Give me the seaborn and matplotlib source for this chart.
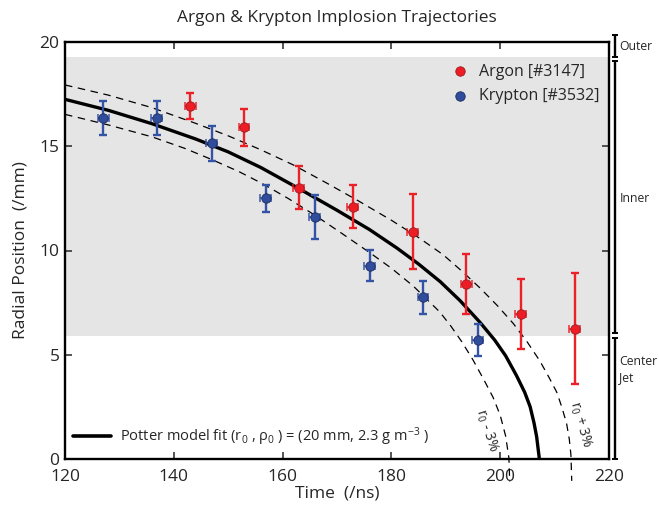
import matplotlib
matplotlib.use("Agg")
import matplotlib.pyplot as plt
import matplotlib.transforms as mtransforms
from matplotlib.lines import Line2D
import pandas as pd
import seaborn as sns

# Measured trajectories (time in ns, radius in mm)
argon_t = [143.0, 152.9, 162.95, 172.85, 183.9, 193.8, 203.8, 213.7]
argon_r = [16.92, 15.9, 13.02, 12.1, 10.9, 8.38, 6.95, 6.24]
argon_err = [0.62, 0.9, 1.02, 1.03, 1.79, 1.43, 1.68, 2.66]

krypton_t = [127.0, 136.9, 147.0, 156.9, 165.9, 176.0, 185.8, 195.9]
krypton_r = [16.36, 16.37, 15.15, 12.51, 11.6, 9.28, 7.76, 5.71]
krypton_err = [0.83, 0.81, 0.84, 0.65, 1.06, 0.75, 0.8, 0.78]

time_err = 1.0

# Potter model fit and the r0 +/- 3% envelopes
fit_t = [120.0, 128.0, 136.0, 144.0, 150.0, 156.0, 163.0, 170.0, 176.0, 181.0,
         185.0, 189.0, 192.6, 196.3, 199.0, 201.0, 203.0, 204.5, 205.5, 206.2,
         206.7, 207.2]
fit_r = [17.25, 16.72, 16.08, 15.35, 14.73, 13.98, 12.97, 11.93, 11.0, 10.12,
         9.35, 8.5, 7.6, 6.55, 5.7, 4.95, 4.0, 3.2, 2.51, 1.75,
         1.07, 0.0]

upper_t = [120.0, 128.0, 136.0, 144.0, 150.0, 156.0, 162.0, 168.0, 174.0, 180.0,
           185.0, 189.5, 193.0, 196.3, 199.5, 202.4, 205.0, 207.3, 209.0, 210.4,
           211.3, 212.2, 212.7, 213.0, 213.15]
upper_r = [17.94, 17.45, 16.85, 16.1, 15.5, 14.83, 14.1, 13.25, 12.37, 11.45,
           10.62, 9.8, 9.0, 8.2, 7.35, 6.5, 5.6, 4.7, 3.9, 3.2,
           2.51, 1.71, 0.95, 0.2, -1.05]

lower_t = [120.0, 128.0, 136.0, 142.0, 147.0, 152.0, 156.2, 161.0, 165.9, 171.0,
           176.0, 180.0, 184.0, 188.9, 191.0, 193.0, 195.0, 197.0, 198.7, 200.0,
           201.0, 201.6, 201.75]
lower_r = [16.53, 16.02, 15.45, 14.9, 14.36, 13.78, 13.22, 12.5, 11.7, 10.8,
           9.9, 9.15, 8.3, 7.05, 6.35, 5.6, 4.75, 3.8, 2.95, 2.1,
           1.1, 0.05, -1.1]

# Plasma regions on the right-hand side (label, top, bottom, label position)
band_low, band_high = 5.9, 19.3
regions = [("Outer", 20.35, 19.3, 19.78),
           ("Inner", 19.08, 6.05, 12.5),
           ("Center\nJet", 5.82, 0.0, 4.3)]

xticks = [120, 140, 160, 180, 200, 220]
yticks = [0, 5, 10, 15, 20]

red, red_edge = "#ee1d25", "#9a1b1e"
blue, blue_edge = "#2f4c9d", "#1b2c5c"
red_bar, blue_bar = "#ec2027", "#3553a6"

sns.set_style("ticks")
plt.rcParams["font.family"] = ["Open Sans", "DejaVu Sans"]
plt.rcParams["mathtext.fontset"] = "custom"
plt.rcParams["mathtext.rm"] = "Open Sans"
plt.rcParams["mathtext.it"] = "Open Sans:italic"
plt.rcParams["mathtext.bf"] = "Open Sans:bold"
plt.rcParams["mathtext.default"] = "regular"

fig, ax = plt.subplots(figsize=(6.59, 5.09), dpi=100)
fig.subplots_adjust(left=65 / 659, right=609 / 659, bottom=1 - 459 / 509, top=1 - 42 / 509)

ax.axhspan(band_low, band_high, color="#e5e5e5", lw=0, zorder=0)

# Model curves
sns.lineplot(x=fit_t, y=fit_r, ax=ax, color="black", lw=2.4, sort=False,
             estimator=None, zorder=2)
ax.lines[-1].set_solid_joinstyle("round")
for tt, rr in ((upper_t, upper_r), (lower_t, lower_r)):
    sns.lineplot(x=tt, y=rr, ax=ax, color="black", lw=0.9, sort=False,
                 estimator=None, linestyle=(0, (6, 4.5)), zorder=2)
    ax.lines[-1].set_clip_on(False)

# Error bars
for tt, rr, ee, col in ((argon_t, argon_r, argon_err, red_bar),
                        (krypton_t, krypton_r, krypton_err, blue_bar)):
    ax.errorbar(tt, rr, yerr=ee, fmt="none", ecolor=col, elinewidth=1.7,
                capsize=3.2, capthick=1.7, zorder=3)
    ax.errorbar(tt, rr, xerr=time_err, fmt="none", ecolor=col, elinewidth=1.4,
                capsize=3.0, capthick=1.4, alpha=0.75, zorder=3)

# Data points
argon_df = pd.DataFrame({"t": argon_t, "r": argon_r})
krypton_df = pd.DataFrame({"t": krypton_t, "r": krypton_r})
sns.scatterplot(data=argon_df, x="t", y="r", ax=ax, color=red, edgecolor=red_edge,
                linewidth=0.6, s=46, zorder=5, label="Argon [#3147]")
sns.scatterplot(data=krypton_df, x="t", y="r", ax=ax, color=blue, edgecolor=blue_edge,
                linewidth=0.6, s=46, zorder=5, label="Krypton [#3532]")

ax.set_xlim(120, 220)
ax.set_ylim(0, 20)
ax.set_xticks(xticks)
ax.set_yticks(yticks)
ax.tick_params(direction="in", top=True, right=True, length=5, width=1.1,
               labelsize=12.5, pad=4)
ax.tick_params(axis="x", pad=7)
for sp in ax.spines.values():
    sp.set_linewidth(1.7)
    sp.set_color("black")

ax.set_xlabel("Time  (/ns)", fontsize=12.5, labelpad=0.5)
ax.set_ylabel("Radial Position  (/mm)", fontsize=12.5, labelpad=8)
fig.text(0.5115, 0.964, "Argon & Krypton Implosion Trajectories", ha="center",
         va="center", fontsize=12.5)

# Series legend
handles, labels = ax.get_legend_handles_labels()
leg1 = ax.legend(handles, labels, loc="upper left", bbox_to_anchor=(0.712, 0.948),
                 frameon=False, fontsize=11.5, handlelength=1.0, handletextpad=0.7,
                 labelspacing=0.55, borderpad=0, borderaxespad=0)
ax.add_artist(leg1)

# Model legend
fit_handle = Line2D([], [], color="black", lw=2.6)
ax.legend([fit_handle],
          [r"Potter model fit (r$_0$ , ρ$_0$ ) = (20 mm, 2.3 g m$^{-3}$ )"],
          loc="center left", bbox_to_anchor=(0.015, 0.054), frameon=False,
          fontsize=10.5, handlelength=2.6, handletextpad=0.6, borderpad=0,
          borderaxespad=0)

# Envelope annotations
ax.text(197.5, 1.39, r"r$_0$ - 3%", rotation=-72, rotation_mode="anchor",
        ha="center", va="center", fontsize=10)
ax.text(214.8, 1.63, r"r$_0$ + 3%", rotation=-74, rotation_mode="anchor",
        ha="center", va="center", fontsize=10)

# Region brackets outside the right spine
trans = mtransforms.blended_transform_factory(ax.transAxes, ax.transData)
bx, cap = 1.0115, 0.0055
for label, top, bottom, ly in regions:
    ax.plot([bx, bx], [top, bottom], transform=trans, color="black", lw=1.7,
            clip_on=False, solid_capstyle="butt")
    for yv in (top, bottom):
        ax.plot([bx - cap, bx + cap], [yv, yv], transform=trans, color="black",
                lw=1.4, clip_on=False, solid_capstyle="butt")
    ax.text(1.019, ly, label, transform=trans, ha="left", va="center",
            fontsize=8.8, linespacing=1.35)

fig.savefig("out.png", dpi=100)
